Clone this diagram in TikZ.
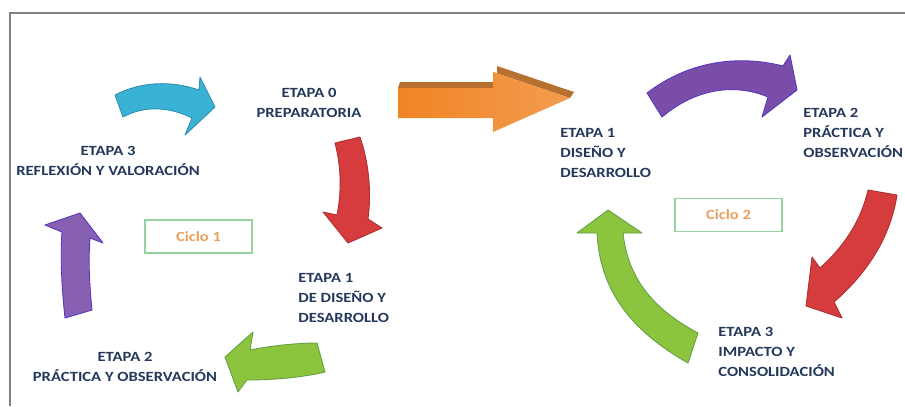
\documentclass[tikz,border=0pt]{standalone}
\usepackage{fontspec}
\setmainfont{Carlito}
\newfontfamily\etapafont{Carlito}[FakeStretch=1.18]
\usepackage{tikz}
\definecolor{etapablue}{RGB}{36,56,92}
\definecolor{cyanarrow}{RGB}{58,178,214}
\definecolor{orangearrow}{RGB}{240,132,36}
\definecolor{orangetop}{RGB}{184,112,48}
\definecolor{purplearrow}{RGB}{122,78,168}
\definecolor{redarrow}{RGB}{214,60,62}
\definecolor{greenarrow}{RGB}{140,196,62}
\definecolor{greenedge}{RGB}{96,160,70}
\definecolor{cicloedge}{RGB}{150,210,160}
\definecolor{ciclotext}{RGB}{232,160,92}
\definecolor{framegray}{RGB}{128,128,128}
\tikzset{
  etapa/.style={font=\etapafont\bfseries\fontsize{8}{11.4}\selectfont,text=etapablue,inner sep=0pt},
  ciclo/.style={draw=cicloedge,line width=1.1pt,minimum width=2.14cm,minimum height=0.66cm,
                font=\etapafont\bfseries\fontsize{8}{9}\selectfont,text=ciclotext},
  bigarrow/.style={line width=0.5pt,line join=round}
}

\begin{document}
\begin{tikzpicture}[x=0.02cm,y=-0.02cm]
      \useasboundingbox (0,0) rectangle (905,406);
      \draw [framegray,line width=1pt] (10,406) -- (10,13) -- (905,13);

      % ciclo 1
      \draw [fill=cyanarrow,draw=cyanarrow!80!black,bigarrow] (123,117) .. controls (145,105) and (170,107) .. (192,118)
            -- (185,135) -- (215,107) -- (200,77) -- (199,90) .. controls (170,80) and (140,82) .. (115,95) -- cycle;
      \node [etapa,align=center] (prep) at (309,102.5) {ETAPA 0\\PREPARATORIA};

      \draw [fill=redarrow,draw=redarrow!80!black,bigarrow] (335,143) .. controls (342,170) and (341,195) .. (337,215)
            -- (323,212) -- (348,243) -- (382,228) -- (368,219) .. controls (372,190) and (368,160) .. (360,137) -- cycle;
      \node [etapa,align=left,anchor=west] (disL) at (298,298) {ETAPA 1\\DE DISEÑO Y\\DESARROLLO};

      \draw [fill=greenarrow,draw=greenedge,bigarrow] (325,372) .. controls (300,378) and (270,380) .. (247,380)
            -- (238,392) -- (225,357) -- (253,332) -- (250,350) .. controls (275,345) and (300,343) .. (317,343) -- cycle;
      \node [etapa,align=center] (pracL) at (125,367) {ETAPA 2\\PRÁCTICA Y OBSERVACIÓN};

      \draw [fill=purplearrow!90!white,draw=purplearrow!70!blue,bigarrow] (65,318) .. controls (62,290) and (60,260) .. (62,232)
            -- (45,225) -- (80,213) -- (103,243) -- (90,238) .. controls (88,265) and (90,290) .. (92,310) -- cycle;
      \node [etapa,align=center] (reflL) at (108,161) {ETAPA 3\\REFLEXIÓN Y VALORACIÓN};

      \node [ciclo] (c1) at (198.5,236.5) {Ciclo 1};

      % paso al ciclo 2
      \fill [orangetop] (400,82) -- (497,82) -- (497,66) -- (574,92) -- (570,98) -- (493,72) -- (493,88) -- (398,88) -- cycle;
      \shade [left color=orangearrow,right color=orangearrow!80!white] (398,88) -- (493,88) -- (493,72) -- (570,98)
            -- (493,132) -- (493,118) -- (398,118) -- cycle;

      % ciclo 2
      \node [etapa,align=left,anchor=west] (disR) at (560,153) {ETAPA 1\\DISEÑO Y\\DESARROLLO};

      \draw [fill=purplearrow,draw=purplearrow!70!blue,bigarrow] (662,117) .. controls (700,85) and (740,85) .. (768,97)
            -- (762,117) -- (797,90) -- (790,55) -- (783,66) .. controls (740,55) and (690,60) .. (647,93) -- cycle;
      \node [etapa,align=left,anchor=west] (pracR) at (803,133) {ETAPA 2\\PRÁCTICA Y\\OBSERVACIÓN};

      \draw [fill=redarrow,draw=redarrow!80!black,bigarrow] (868,190) .. controls (860,225) and (840,250) .. (820,268)
            -- (812,257) -- (806,306) -- (842,318) -- (834,302) .. controls (865,275) and (890,240) .. (897,195) -- cycle;
      \node [etapa,align=left,anchor=west] (impR) at (718,352) {ETAPA 3\\IMPACTO Y\\CONSOLIDACIÓN};

      \draw [fill=greenarrow,draw=greenedge,bigarrow] (688,363) .. controls (630,330) and (600,290) .. (597,233)
            -- (577,233) -- (608,210) -- (642,233) -- (623,233) .. controls (628,280) and (655,310) .. (698,333) -- cycle;

      \node [ciclo] (c2) at (728.5,215) {Ciclo 2};
    \end{tikzpicture}
\end{document}
